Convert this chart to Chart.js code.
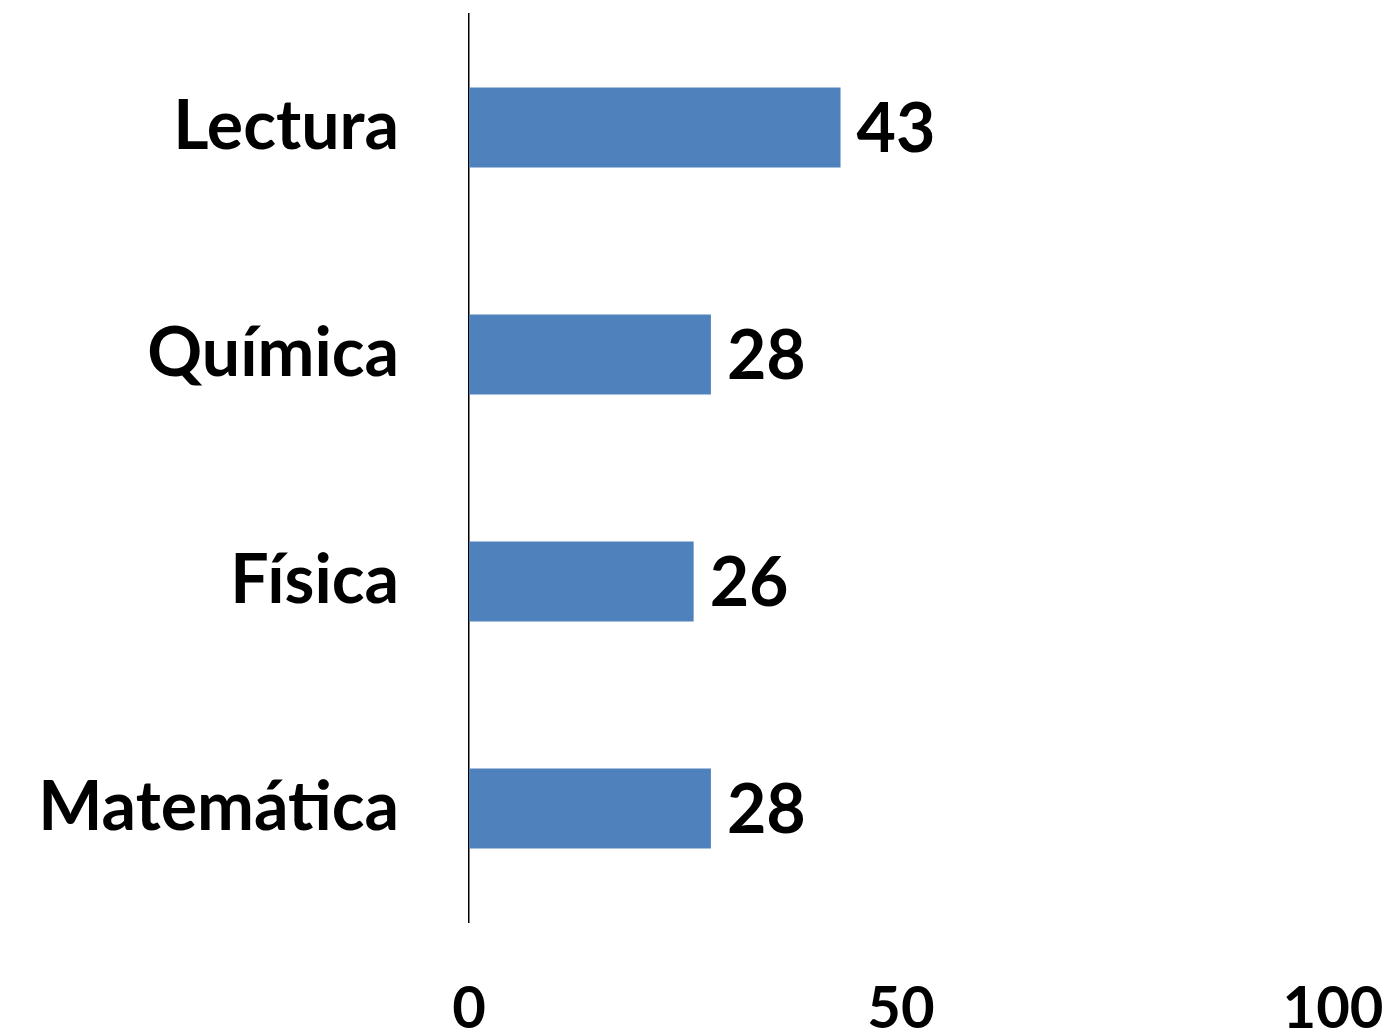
<!DOCTYPE html>
<html>
<head>
<meta charset="utf-8">
<script src="https://cdn.jsdelivr.net/npm/chart.js@4.4.1/dist/chart.umd.min.js"></script>
<style>
  html, body { margin: 0; padding: 0; background: #fff; overflow: hidden; }
  #wrap { width: 1388px; height: 1030px; }
</style>
</head>
<body>
<div id="wrap"><canvas id="chartMaterias"></canvas></div>
<script>
// datos
const materias = ["Lectura", "Química", "Física", "Matemática"];
const valores  = [43, 28, 26, 28];
const ticksX   = [0, 50, 100];

const FONT = "Lato, 'Open Sans', sans-serif";
const AZUL = "#4F81BD";

// etiquetas de valor a la derecha de cada barra
const etiquetasValor = {
  id: "etiquetasValor",
  afterDatasetsDraw(chart) {
    const { ctx } = chart;
    const meta = chart.getDatasetMeta(0);
    ctx.save();
    ctx.font = `700 68px ${FONT}`;
    ctx.fillStyle = "#000";
    ctx.textAlign = "left";
    ctx.textBaseline = "middle";
    meta.data.forEach((bar, i) => {
      ctx.fillText(String(valores[i]), bar.x + 16, bar.y + 3);
    });
    ctx.restore();
  }
};

new Chart(document.getElementById("chartMaterias").getContext("2d"), {
  type: "bar",
  data: {
    labels: materias,
    datasets: [{
      data: valores,
      backgroundColor: AZUL,
      borderWidth: 0,
      categoryPercentage: 1,
      barPercentage: 0.352
    }]
  },
  options: {
    indexAxis: "y",
    responsive: true,
    maintainAspectRatio: false,
    animation: false,
    layout: { padding: { top: 14, right: 55, left: 0, bottom: 0 } },
    plugins: { legend: { display: false }, tooltip: { enabled: false } },
    scales: {
      x: {
        min: 0, max: 100,
        afterBuildTicks: (scale) => { scale.ticks = ticksX.map(v => ({ value: v })); },
        afterFit: (scale) => { scale.height = 108; scale.paddingLeft = 0; scale.paddingRight = 0; },
        grid: { display: false, drawTicks: false },
        border: { display: false },
        ticks: { color: "#000", padding: 52, font: { family: FONT, size: 58, weight: "700" }, maxRotation: 0 }
      },
      y: {
        afterFit: (scale) => { scale.width = 469; scale.paddingTop = 0; scale.paddingBottom = 0; },
        grid: { display: false, drawTicks: false },
        border: { display: true, color: "#000", width: 1.5 },
        ticks: { color: "#000", padding: 70, font: { family: FONT, size: 68, weight: "700" } }
      }
    }
  },
  plugins: [etiquetasValor]
});
</script>
</body>
</html>
